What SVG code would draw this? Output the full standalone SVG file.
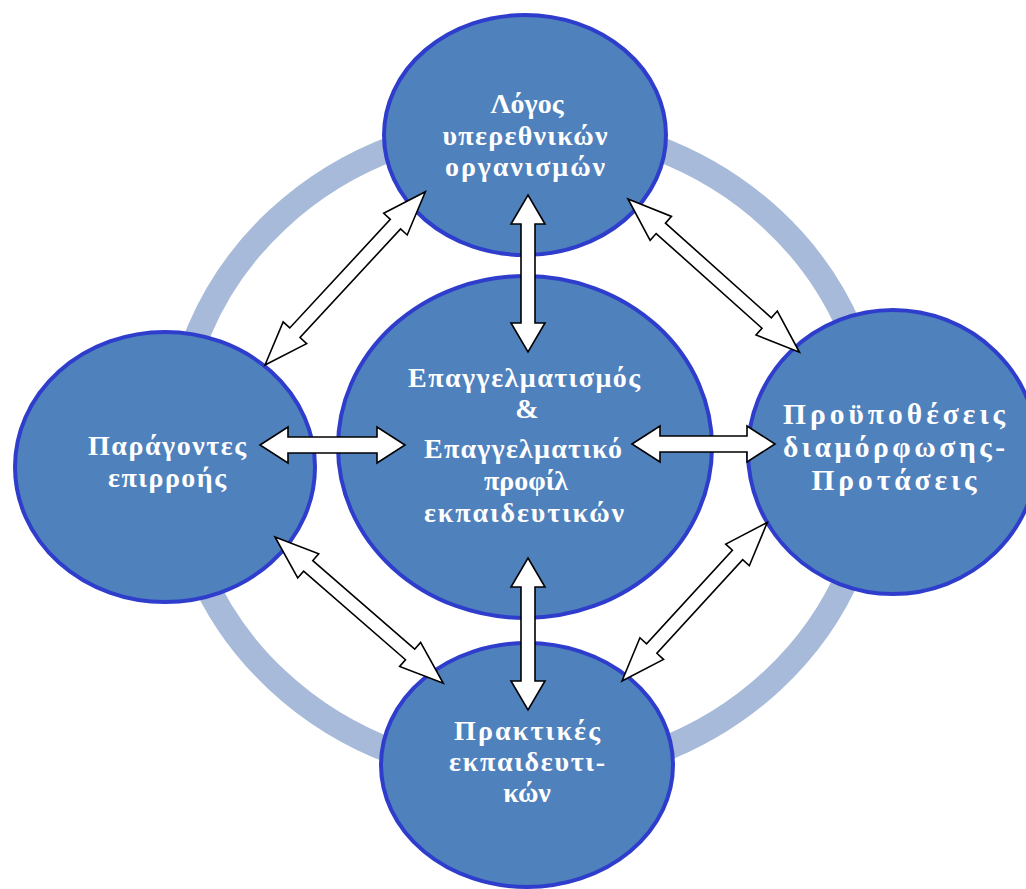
<svg xmlns="http://www.w3.org/2000/svg" width="1026" height="889" viewBox="0 0 1026 889">
<style>
.node{fill:#4F81BD;stroke:#2E3DCB;stroke-width:4}
.lbl{font-family:"Liberation Serif","Times New Roman",serif;font-weight:bold;font-size:28px;fill:#FFFFFF;text-anchor:middle}
.big{font-size:29.5px}
.arr{fill:#FFFFFF;stroke:#000000;stroke-width:1.6;stroke-linejoin:miter}
</style>
<rect width="1026" height="889" fill="#FFFFFF"/>
<g id="ring">
<ellipse cx="525" cy="450" rx="350" ry="326" fill="none" stroke="#A8BAD9" stroke-width="25"/>
</g>
<g id="node-top">
<ellipse class="node" cx="525" cy="135" rx="141" ry="120"/>
<text class="lbl" x="527" y="113">Λόγος</text>
<text class="lbl" x="525" y="145" textLength="165">υπερεθνικών</text>
<text class="lbl" x="525" y="176" textLength="160">οργανισμών</text>
</g>
<g id="node-left">
<ellipse class="node" cx="165" cy="467" rx="150" ry="135"/>
<text class="lbl" x="167" y="455" textLength="158">Παράγοντες</text>
<text class="lbl" x="167" y="487" textLength="118">επιρροής</text>
</g>
<g id="node-right">
<ellipse class="node" cx="893" cy="452" rx="145" ry="142"/>
<text class="lbl big" x="894" y="424" textLength="222">Προϋποθέσεις</text>
<text class="lbl big" x="894" y="457" textLength="222">διαμόρφωσης-</text>
<text class="lbl big" x="894" y="490" textLength="165">Προτάσεις</text>
</g>
<g id="node-bottom">
<ellipse class="node" cx="527" cy="765" rx="146" ry="122"/>
<text class="lbl" x="527" y="740" textLength="146">Πρακτικές</text>
<text class="lbl" x="527" y="771" textLength="156">εκπαιδευτι-</text>
<text class="lbl" x="527" y="802">κών</text>
</g>
<g id="node-center">
<ellipse class="node" cx="525" cy="447" rx="187" ry="171"/>
<text class="lbl" x="524" y="387" textLength="232">Επαγγελματισμός</text>
<text class="lbl" x="527" y="418">&amp;</text>
<text class="lbl" x="523" y="458" textLength="198">Επαγγελματικό</text>
<text class="lbl" x="526" y="490">προφίλ</text>
<text class="lbl" x="524" y="522" textLength="200">εκπαιδευτικών</text>
</g>
<g id="connectors">
<polygon class="arr" transform="translate(528,195) rotate(90)" points="0,0 29,-17 29,-7 128,-7 128,-17 157,0 128,17 128,7 29,7 29,17"/>
<polygon class="arr" transform="translate(528,558) rotate(90)" points="0,0 29,-17 29,-7 123,-7 123,-17 152,0 123,17 123,7 29,7 29,17"/>
<polygon class="arr" transform="translate(260,445)" points="0,0 28,-18 28,-8 117,-8 117,-18 145,0 117,18 117,8 28,8 28,18"/>
<polygon class="arr" transform="translate(632,444)" points="0,0 28,-18 28,-8 115,-8 115,-18 143,0 115,18 115,8 28,8 28,18"/>
<polygon class="arr" transform="translate(265,365) rotate(-47.2)" points="0,0 44,-16 44,-7 192,-7 192,-16 236,0 192,16 192,7 44,7 44,16"/>
<polygon class="arr" transform="translate(628,199) rotate(41.8)" points="0,0 44,-16 44,-7 186,-7 186,-16 230,0 186,16 186,7 44,7 44,16"/>
<polygon class="arr" transform="translate(275,537) rotate(41)" points="0,0 44,-16 44,-7 179,-7 179,-16 223,0 179,16 179,7 44,7 44,16"/>
<polygon class="arr" transform="translate(622,681) rotate(-47.5)" points="0,0 44,-16 44,-7 171,-7 171,-16 215,0 171,16 171,7 44,7 44,16"/>
</g>
</svg>
